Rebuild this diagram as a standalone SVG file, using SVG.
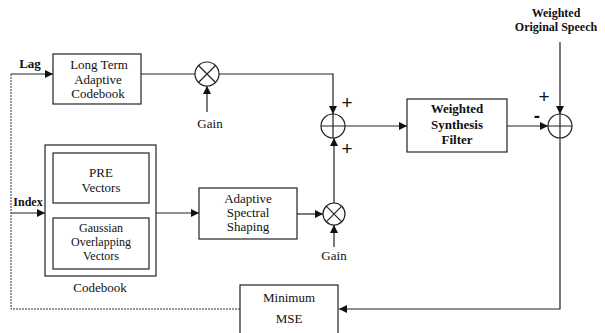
<svg xmlns="http://www.w3.org/2000/svg" width="605" height="333" viewBox="0 0 605 333">
<style>
text{font-family:"Liberation Serif","DejaVu Serif",serif;font-size:13px;fill:#111;text-anchor:middle}
.b{font-weight:bold}
.box{fill:#fff;stroke:#222;stroke-width:1.2}
.ln{fill:none;stroke:#222;stroke-width:1.2}
.dot{fill:none;stroke:#333;stroke-width:1;stroke-dasharray:2,1}
.sign{font-family:"Liberation Sans","DejaVu Sans",sans-serif;font-size:19px}
.wos{font-size:12px}
.sm{font-size:12px}
</style>
<defs>
<marker id="ar" viewBox="0 0 10 10" refX="10" refY="5" markerWidth="8" markerHeight="8" markerUnits="userSpaceOnUse" orient="auto">
<path d="M0,0 L10,5 L0,10 z" fill="#111"/>
</marker>
</defs>
<g id="connectors">
<path class="dot" d="M240,309 H11 V74"/>
<path class="ln" d="M11,74 H53" marker-end="url(#ar)"/>
<path class="ln" d="M11,213 H45" marker-end="url(#ar)"/>
<path class="ln" d="M141,74 H195"/>
<path class="ln" d="M219,74 H333 V114" marker-end="url(#ar)"/>
<path class="ln" d="M207,112 V86" marker-end="url(#ar)"/>
<path class="ln" d="M156,213 H199" marker-end="url(#ar)"/>
<path class="ln" d="M297,214 H323" marker-end="url(#ar)"/>
<path class="ln" d="M334,247 V225" marker-end="url(#ar)"/>
<path class="ln" d="M334,203 V138" marker-end="url(#ar)"/>
<path class="ln" d="M345,126 H407" marker-end="url(#ar)"/>
<path class="ln" d="M507,126 H548" marker-end="url(#ar)"/>
<path class="ln" d="M560,42 V114" marker-end="url(#ar)"/>
<path class="ln" d="M560,138 V309 H339" marker-end="url(#ar)"/>
</g>
<g id="lag"><text x="30" y="68" class="b">Lag</text></g>
<g id="index"><text x="28" y="206" class="b sm">Index</text></g>
<g id="ltac">
<rect class="box" x="53" y="54" width="88" height="50"/>
<text x="99" y="69">Long Term</text>
<text x="98" y="84">Adaptive</text>
<text x="98" y="98">Codebook</text>
</g>
<g id="mult1">
<circle class="ln" cx="207" cy="74" r="12"/>
<path class="ln" d="M198.5,65.5 L215.5,82.5 M215.5,65.5 L198.5,82.5"/>
<text x="210" y="128">Gain</text>
</g>
<g id="codebook">
<rect class="box" x="45" y="145" width="111" height="131"/>
<rect class="box" x="53" y="153" width="96" height="50"/>
<text x="101" y="177">PRE</text>
<text x="101" y="192">Vectors</text>
<rect class="box" x="53" y="218" width="96" height="51"/>
<text x="101" y="232" class="sm">Gaussian</text>
<text x="101" y="246" class="sm">Overlapping</text>
<text x="101" y="260" class="sm">Vectors</text>
<text x="100" y="292">Codebook</text>
</g>
<g id="ass">
<rect class="box" x="199" y="188" width="98" height="51"/>
<text x="248" y="203">Adaptive</text>
<text x="248" y="217">Spectral</text>
<text x="248" y="231">Shaping</text>
</g>
<g id="mult2">
<circle class="ln" cx="334" cy="214" r="11"/>
<path class="ln" d="M326.2,206.2 L341.8,221.8 M341.8,206.2 L326.2,221.8"/>
<text x="334" y="260">Gain</text>
</g>
<g id="sum1">
<circle class="ln" cx="333" cy="126" r="12"/>
<path class="ln" d="M321,126 H345 M333,114 V138"/>
<text x="347" y="109" class="sign">+</text>
<text x="347" y="155" class="sign">+</text>
</g>
<g id="wsf">
<rect class="box" x="407" y="99" width="100" height="53"/>
<text x="457" y="113" class="b">Weighted</text>
<text x="457" y="129" class="b">Synthesis</text>
<text x="457" y="144" class="b">Filter</text>
</g>
<g id="sum2">
<circle class="ln" cx="560" cy="126" r="12"/>
<path class="ln" d="M548,126 H572 M560,114 V138"/>
<text x="544" y="103" class="sign">+</text>
<text x="537" y="122" class="sign b">-</text>
</g>
<g id="wos">
<text x="556" y="17" class="b wos">Weighted</text>
<text x="556" y="31" class="b wos">Original Speech</text>
</g>
<g id="mse">
<rect class="box" x="240" y="285" width="98" height="50"/>
<text x="289" y="302">Minimum</text>
<text x="289" y="323">MSE</text>
</g>
</svg>
